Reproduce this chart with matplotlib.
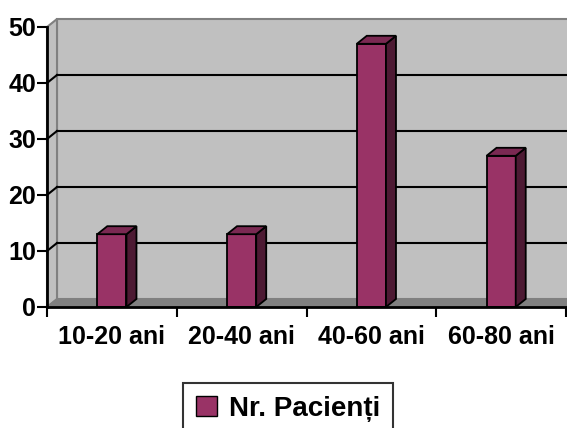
import numpy as np
import matplotlib
matplotlib.use('Agg')
import matplotlib.pyplot as plt
from matplotlib.patches import Polygon, Rectangle
from matplotlib.transforms import offset_copy

categories = ['10-20 ani', '20-40 ani', '40-60 ani', '60-80 ani']
patients = [13, 13, 47, 27]
series_name = 'Nr. Pacienți'
y_ticks = [0, 10, 20, 30, 40, 50]

plt.rcParams['font.family'] = ['Liberation Sans', 'DejaVu Sans']
plt.rcParams['font.weight'] = 'bold'

FRONT = '#993366'
SIDE = '#4d1a33'
TOP = '#7a2952'
WALL = '#c0c0c0'
FLOOR = '#808080'

W, H, DPI = 567, 428, 100
fig = plt.figure(figsize=(W / DPI, H / DPI), dpi=DPI, facecolor='white')
ax = fig.add_axes([47 / W, 1 - 307 / H, 519 / W, 280 / H])
ax.set_xlim(-0.5, len(categories) - 0.5)
ax.set_ylim(0, 50)
ax.set_facecolor('none')
for sp in ax.spines.values():
    sp.set_visible(False)

# depth of the 3d box in pixels
DX, DY = 10, 8
back = offset_copy(ax.transData, fig=fig, x=DX, y=DY, units='dots')
ppx = 519 / (len(categories))          # pixels per category
ppy = 280 / 50                          # pixels per unit
ddx, ddy = DX / ppx, DY / ppy           # depth in data units

x0, x1 = -0.5, len(categories) - 0.5

# back wall
ax.add_patch(Rectangle((x0, 0), x1 - x0, 50, transform=back, facecolor=WALL,
                       edgecolor=FLOOR, lw=1.5, clip_on=False, zorder=0))
# left wall
ax.add_patch(Polygon([(x0, 0), (x0 + ddx, ddy), (x0 + ddx, 50 + ddy), (x0, 50)],
                     facecolor=WALL, edgecolor=FLOOR, lw=1.5, clip_on=False, zorder=0))
# floor
ax.add_patch(Polygon([(x0, 0), (x1, 0), (x1 + ddx, ddy), (x0 + ddx, ddy)],
                     facecolor=FLOOR, edgecolor=FLOOR, lw=1, clip_on=False, zorder=0.5))

# gridlines on back wall and left wall
for v in y_ticks[1:-1]:
    ax.plot([x0, x1 + 1], [v, v], transform=back, color='black', lw=1.5,
            clip_on=False, zorder=1)
    ax.plot([x0, x0 + ddx], [v, v + ddy], color='black', lw=1.5,
            clip_on=False, zorder=1)

# bars: front face, side face and top
xs = np.arange(len(categories))
bw = 0.225
ax.bar(xs, patients, width=bw, color=FRONT, edgecolor='black', lw=1.3, zorder=3)
for x, v in zip(xs, patients):
    r, l = x + bw / 2, x - bw / 2
    ax.add_patch(Polygon([(r, 0), (r + ddx, ddy), (r + ddx, v + ddy), (r, v)],
                         facecolor=SIDE, edgecolor='black', lw=1.3, zorder=3))
    ax.add_patch(Polygon([(l, v), (r, v), (r + ddx, v + ddy), (l + ddx, v + ddy)],
                         facecolor=TOP, edgecolor='black', lw=1.3, zorder=3))

# front axes
ax.plot([x0, x0], [0, 50], color='black', lw=2, clip_on=False, zorder=4)
ax.plot([x0, x1], [0, 0], color='black', lw=2, clip_on=False, zorder=4)

ax.set_yticks(y_ticks)
ax.set_yticklabels([str(t) for t in y_ticks], fontsize=18, fontweight='bold')
ax.tick_params(axis='y', length=7, width=1.5, pad=1, color='black')

ax.set_xticks(np.arange(len(categories) + 1) - 0.5)
ax.set_xticklabels([])
ax.set_xticks(xs, minor=True)
ax.set_xticklabels(categories, minor=True, fontsize=18, fontweight='bold')
ax.tick_params(axis='x', which='major', length=7, width=1.5, color='black')
ax.tick_params(axis='x', which='minor', length=0, pad=13)

handle = Rectangle((0, 0), 1, 1, facecolor=FRONT, edgecolor='black', lw=1)
leg = fig.legend([handle], [series_name], loc='upper center',
                 bbox_to_anchor=(288 / W, 1 - 383 / H), borderaxespad=0,
                 frameon=True, fancybox=False, edgecolor='black',
                 handlelength=0.75, handleheight=0.75, handletextpad=0.45,
                 borderpad=0.45, prop={'size': 20, 'weight': 'bold'})
leg.get_frame().set_linewidth(1.5)

fig.savefig('out.png', dpi=DPI, facecolor='white')
